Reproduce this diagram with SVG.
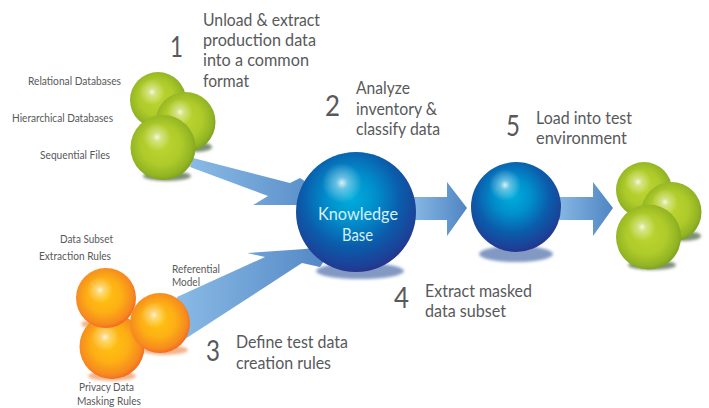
<svg xmlns="http://www.w3.org/2000/svg" width="709" height="408" viewBox="0 0 709 408">
<defs>
<radialGradient id="green" cx="0.47" cy="0.46" r="0.56"><stop offset="0" stop-color="#bdd630"/><stop offset="0.55" stop-color="#afcb2a"/><stop offset="0.85" stop-color="#93b524"/><stop offset="1" stop-color="#7b9e20"/></radialGradient>
<radialGradient id="orange" cx="0.47" cy="0.46" r="0.56"><stop offset="0" stop-color="#ffc40f"/><stop offset="0.5" stop-color="#fdb014"/><stop offset="0.85" stop-color="#f68a1f"/><stop offset="1" stop-color="#f26522"/></radialGradient>
<radialGradient id="blue" cx="0.46" cy="0.38" r="0.66"><stop offset="0" stop-color="#00aedb"/><stop offset="0.3" stop-color="#0090cd"/><stop offset="0.62" stop-color="#0b5cab"/><stop offset="0.88" stop-color="#1d3f96"/><stop offset="1" stop-color="#2e2a82"/></radialGradient>
<radialGradient id="hl"><stop offset="0" stop-color="#fff" stop-opacity="0.85"/><stop offset="0.3" stop-color="#fff" stop-opacity="0.4"/><stop offset="1" stop-color="#fff" stop-opacity="0"/></radialGradient>
<linearGradient id="arrow" x1="0" y1="0" x2="1" y2="0"><stop offset="0" stop-color="#8abae5"/><stop offset="1" stop-color="#4f85c3"/></linearGradient>
<filter id="soft" x="-30%" y="-60%" width="160%" height="220%"><feGaussianBlur stdDeviation="1.5"/></filter>
</defs>
<style>
text{font-family:"Lato","Open Sans","Liberation Sans",sans-serif;fill:#58595b}
.step{font-size:16.500px}
.num{font-size:28px}
.small{font-size:10.500px}
.kb{font-size:16.500px;fill:#d6f0fa}
.g{fill:url(#green)}
.o{fill:url(#orange)}
.b{fill:url(#blue)}
.h{fill:url(#hl)}
.a{fill:url(#arrow)}
.sb{fill:#8299c4;filter:url(#soft)}
.sg{fill:#7f9178;filter:url(#soft)}
.so{fill:#f3b48c;filter:url(#soft)}
</style>
<rect width="709" height="408" fill="#fff"/>
<g id="shadows">
<ellipse class="sb" cx="360" cy="271" rx="44" ry="8"/>
<ellipse class="sb" cx="516" cy="254" rx="37" ry="8"/>
<ellipse class="sg" cx="197" cy="147" rx="15" ry="5"/>
<ellipse class="sg" cx="167" cy="176" rx="24" ry="5"/>
<ellipse class="sg" cx="684" cy="236" rx="17" ry="5"/>
<ellipse class="sg" cx="652" cy="265" rx="24" ry="5"/>
<ellipse class="so" cx="92" cy="324" rx="11" ry="4"/>
<ellipse class="so" cx="112" cy="376" rx="24" ry="5"/>
<ellipse class="so" cx="165" cy="350" rx="23" ry="5"/>
</g>
<g id="connectors">
<polygon class="a" points="193,158 290,183 300,178 340,205 253,205 268,196 190,167"/>
<polygon class="a" points="177,297 265,257 247,253 305,249 335,245 320,267 302,263 185,339"/>
<polygon class="a" points="410,197 447,197 447,182 467,208 447,236 447,220 410,220"/>
<polygon class="a" points="555,197 593,197 593,182 613,208 593,236 593,220 555,220"/>
</g>
<g id="sources">
<circle class="g" cx="158" cy="100" r="28"/><circle class="h" cx="152" cy="92" r="13"/>
<circle class="g" cx="185.500" cy="122" r="30"/><circle class="h" cx="180" cy="112" r="13"/>
<circle class="g" cx="163" cy="147.500" r="32.500"/><circle class="h" cx="157" cy="137" r="14"/>
<text class="small" x="28" y="85" textLength="93" lengthAdjust="spacingAndGlyphs">Relational Databases</text>
<text class="small" x="12" y="122" textLength="101" lengthAdjust="spacingAndGlyphs">Hierarchical Databases</text>
<text class="small" x="40" y="159" textLength="70" lengthAdjust="spacingAndGlyphs">Sequential Files</text>
</g>
<g id="rules">
<circle class="o" cx="112" cy="346.500" r="32.500"/><circle class="h" cx="105" cy="337" r="14"/>
<circle class="o" cx="106" cy="298" r="30"/><circle class="h" cx="100" cy="290" r="13"/>
<circle class="o" cx="160" cy="323" r="30"/><circle class="h" cx="154" cy="315" r="13"/>
<text class="small" x="60" y="243" textLength="53" lengthAdjust="spacingAndGlyphs">Data Subset</text>
<text class="small" x="39" y="260" textLength="72" lengthAdjust="spacingAndGlyphs">Extraction Rules</text>
<text class="small" x="172" y="273" textLength="48" lengthAdjust="spacingAndGlyphs">Referential</text>
<text class="small" x="172" y="286" textLength="28" lengthAdjust="spacingAndGlyphs">Model</text>
<text class="small" x="79" y="391" textLength="55" lengthAdjust="spacingAndGlyphs">Privacy Data</text>
<text class="small" x="77" y="405" textLength="64" lengthAdjust="spacingAndGlyphs">Masking Rules</text>
</g>
<g id="knowledge-base">
<circle class="b" cx="356" cy="212" r="60"/><circle class="h" cx="342" cy="183" r="20"/>
<text class="kb" x="318" y="220" textLength="80" lengthAdjust="spacingAndGlyphs">Knowledge</text>
<text class="kb" x="342" y="241" textLength="31" lengthAdjust="spacingAndGlyphs">Base</text>
</g>
<g id="masked-subset">
<circle class="b" cx="516" cy="207" r="45"/><circle class="h" cx="505" cy="185" r="16"/>
</g>
<g id="test-environment">
<circle class="g" cx="644" cy="190" r="28"/><circle class="h" cx="638" cy="182" r="13"/>
<circle class="g" cx="671.500" cy="212" r="30"/><circle class="h" cx="665" cy="202" r="13"/>
<circle class="g" cx="648.500" cy="237" r="32.500"/><circle class="h" cx="642" cy="227" r="14"/>
</g>
<g id="step-1">
<text class="num" x="170" y="57" textLength="13" lengthAdjust="spacingAndGlyphs">1</text>
<text class="step" x="203" y="26" textLength="117" lengthAdjust="spacingAndGlyphs">Unload &amp; extract</text>
<text class="step" x="203" y="46" textLength="113" lengthAdjust="spacingAndGlyphs">production data</text>
<text class="step" x="203" y="66" textLength="106" lengthAdjust="spacingAndGlyphs">into a common</text>
<text class="step" x="203" y="87" textLength="46" lengthAdjust="spacingAndGlyphs">format</text>
</g>
<g id="step-2">
<text class="num" x="325" y="116" textLength="15" lengthAdjust="spacingAndGlyphs">2</text>
<text class="step" x="356" y="94" textLength="54" lengthAdjust="spacingAndGlyphs">Analyze</text>
<text class="step" x="356" y="115" textLength="81" lengthAdjust="spacingAndGlyphs">inventory &amp;</text>
<text class="step" x="356" y="135" textLength="84" lengthAdjust="spacingAndGlyphs">classify data</text>
</g>
<g id="step-3">
<text class="num" x="206" y="361" textLength="14" lengthAdjust="spacingAndGlyphs">3</text>
<text class="step" x="236" y="348" textLength="112" lengthAdjust="spacingAndGlyphs">Define test data</text>
<text class="step" x="236" y="369" textLength="95" lengthAdjust="spacingAndGlyphs">creation rules</text>
</g>
<g id="step-4">
<text class="num" x="394" y="308" textLength="15" lengthAdjust="spacingAndGlyphs">4</text>
<text class="step" x="425" y="297" textLength="107" lengthAdjust="spacingAndGlyphs">Extract masked</text>
<text class="step" x="425" y="317" textLength="81" lengthAdjust="spacingAndGlyphs">data subset</text>
</g>
<g id="step-5">
<text class="num" x="506" y="136" textLength="14" lengthAdjust="spacingAndGlyphs">5</text>
<text class="step" x="536" y="124" textLength="96" lengthAdjust="spacingAndGlyphs">Load into test</text>
<text class="step" x="536" y="144" textLength="91" lengthAdjust="spacingAndGlyphs">environment</text>
</g>
</svg>
